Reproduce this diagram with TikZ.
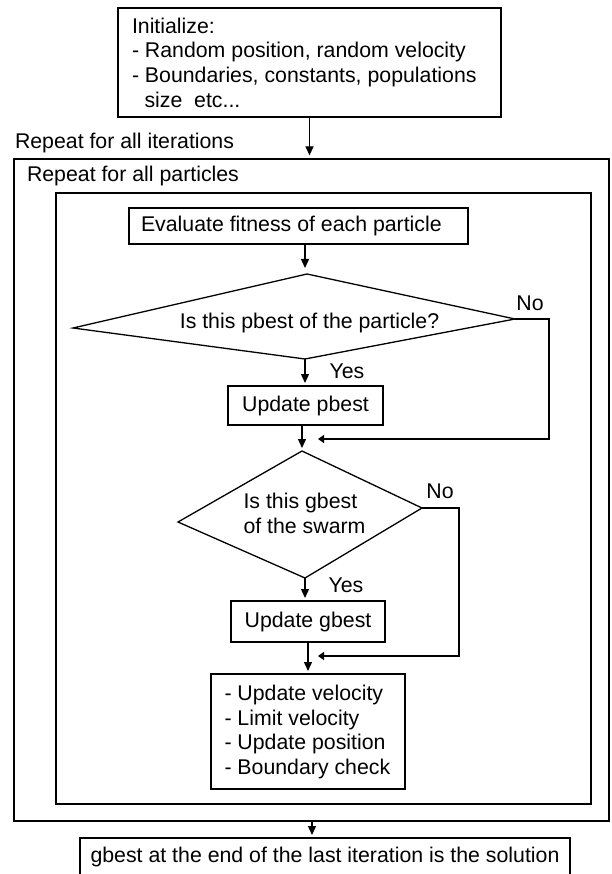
\documentclass[tikz,border=0pt]{standalone}
\usepackage{fontspec}
\setmainfont{Liberation Sans}
\usetikzlibrary{arrows.meta}
\begin{document}
\begin{tikzpicture}[x=1pt,y=-1pt,
  lw/.style={line width=1.3pt},
  fnt/.style={font=\fontsize{21.3}{24.6}\selectfont},
  box/.style={draw,lw,inner sep=0pt,outer sep=0pt,fnt},
  txt/.style={inner sep=0pt,outer sep=0pt,fnt},
  arr/.style={lw,-{Triangle[length=9pt,width=8pt]},shorten >=3pt},
  marr/.style={lw,-{Triangle[length=6pt,width=8pt]}},
]
\clip (0,0) rectangle (611,874);
\fill[white] (0,0) rectangle (611,874);

% top box
\node[box,minimum width=383pt,minimum height=109pt] (init) at (309.5,62.5) {};
\node[txt,align=left,anchor=west] (inittxt) at (132,62.5)
  {Initialize:\\- Random position, random velocity\\- Boundaries, constants, populations\\\hspace*{12.5pt}size\ \ etc...};

\node[txt,anchor=west] (lblit) at (15,143) {Repeat for all iterations};

% frames
\node[draw,lw,inner sep=0pt,minimum width=595pt,minimum height=662pt] (outer) at (311.5,490) {};
\node[txt,anchor=west] (lblpa) at (27,176) {Repeat for all particles};
\node[draw,lw,inner sep=0pt,minimum width=535pt,minimum height=611pt] (inner) at (323.5,498.5) {};

% evaluate
\node[box,minimum width=339pt,minimum height=36pt] (eval) at (298.5,226) {};
\node[txt,anchor=west] (evaltxt) at (141,226) {Evaluate fitness of each particle};

% decision 1
\coordinate (d1t) at (307,274);
\coordinate (d1r) at (515,319);
\coordinate (d1b) at (305,359);
\coordinate (d1l) at (73,328);
\draw[lw] (d1t) -- (d1r) -- (d1b) -- (d1l) -- cycle;
\node[txt] (d1) at (309.5,323) {Is this pbest of the particle?};

\node[box,minimum width=155pt,minimum height=39pt] (pb) at (305.5,405.5) {Update pbest};

% decision 2
\coordinate (d2t) at (302,451);
\coordinate (d2r) at (422,508);
\coordinate (d2b) at (305,578);
\coordinate (d2l) at (178,522);
\draw[lw] (d2t) -- (d2r) -- (d2b) -- (d2l) -- cycle;
\node[txt,align=left] (d2) at (304.5,513.5) {Is this gbest\\of the swarm};

\node[box,minimum width=154pt,minimum height=41pt] (gb) at (308,621.5) {Update gbest};

\node[box,minimum width=194pt,minimum height=115pt] (lst) at (308,731.5) {};
\node[txt,align=left,anchor=west] (lsttxt) at (224.5,732)
  {- Update velocity\\- Limit velocity\\- Update position\\- Boundary check};

\node[box,anchor=north,minimum width=490pt,inner ysep=9pt] (fin) at (325,838)
  {gbest at the end of the last iteration is the solution};

% labels
\node[txt] (no1) at (530,303) {No};
\node[txt] (yes1) at (347,371) {Yes};
\node[txt] (no2) at (440,491) {No};
\node[txt] (yes2) at (346,585) {Yes};

% arrows
\draw[arr] (init.south) -- (init.south |- outer.north);
\draw[arr,shorten >=6pt] (eval.south -| d1b) -- (d1t -| d1b);
\draw[arr] (d1b) -- (d1b |- pb.north);
\draw[arr] (pb.south -| d2t) -- (d2t);
\draw[arr] (d2b) -- (d2b |- gb.north);
\draw[arr] (gb.south) -- (lst.north);
\draw[arr] ([xshift=0.5pt]outer.south) -- ([xshift=0.5pt]outer.south |- fin.north);

% no branches
\coordinate (n1) at (549,319);
\coordinate (m1) at (318,439);
\draw[marr] (d1r) -- (n1) -- (n1 |- m1) -- (m1);
\coordinate (n2) at (459,508);
\coordinate (m2) at (318,656);
\draw[marr] (d2r) -- (n2) -- (n2 |- m2) -- (m2);
\end{tikzpicture}
\end{document}
